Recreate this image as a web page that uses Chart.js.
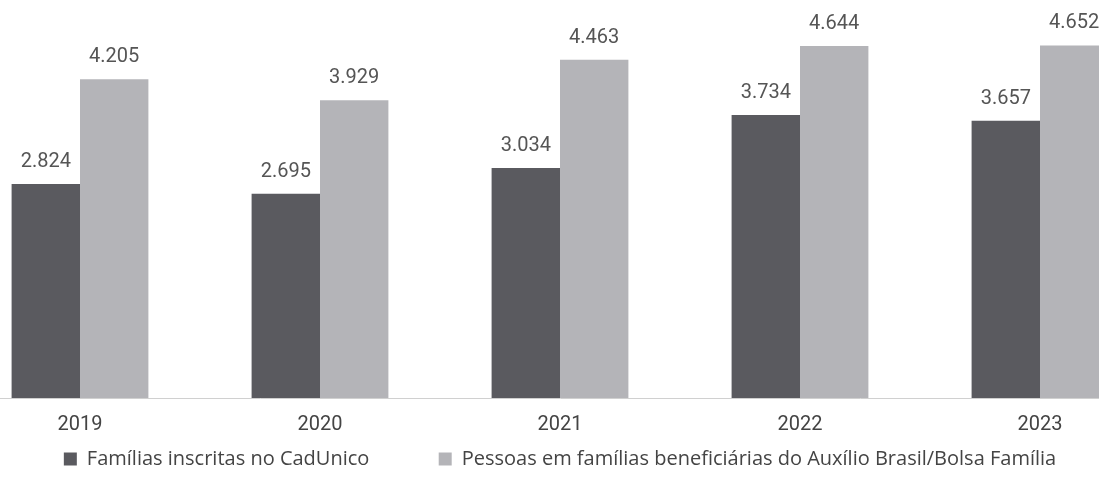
<!DOCTYPE html>
<html>
<head>
<meta charset="utf-8">
<script src="https://cdn.jsdelivr.net/npm/chart.js@4/dist/chart.umd.min.js"></script>
<style>
  html, body { margin: 0; padding: 0; background: #fff; overflow: hidden; }
  #wrap { position: absolute; left: -40px; top: 0; width: 1202px; height: 480px; }
</style>
</head>
<body>
<div id="wrap"><canvas id="c"></canvas></div>
<script>
const years = ['2019', '2020', '2021', '2022', '2023'];
const familias = [2824, 2695, 3034, 3734, 3657];
const pessoas = [4205, 3929, 4463, 4644, 4652];

const fmt = v => String(v).replace(/\B(?=(\d{3})+(?!\d))/g, '.');

const valueLabels = {
    id: 'valueLabels',
    afterDatasetsDraw(chart) {
        const ctx = chart.ctx;
        ctx.save();
        ctx.font = '20px Roboto';
        ctx.fillStyle = '#555';
        ctx.textAlign = 'center';
        ctx.textBaseline = 'alphabetic';
        chart.data.datasets.forEach((ds, i) => {
            chart.getDatasetMeta(i).data.forEach((bar, j) => {
                ctx.fillText(fmt(ds.data[j]), bar.x, bar.y - 17);
            });
        });
        ctx.restore();
    }
};

new Chart(document.getElementById('c'), {
    type: 'bar',
    data: {
        labels: years,
        datasets: [{
            label: 'Famílias inscritas no CadUnico',
            data: familias,
            backgroundColor: '#5a5a5f'
        }, {
            label: 'Pessoas em famílias beneficiárias do Auxílio Brasil/Bolsa Família',
            data: pessoas,
            backgroundColor: '#b4b4b8'
        }]
    },
    options: {
        responsive: true,
        maintainAspectRatio: false,
        animation: false,
        layout: { padding: { left: 0, right: 2, top: 19, bottom: 1 } },
        datasets: { bar: { barPercentage: 1, categoryPercentage: 0.57 } },
        scales: {
            x: {
                grid: { display: false },
                border: { color: '#d0d0d0', dash: [2, 2] },
                ticks: { color: '#444', font: { family: 'Roboto', size: 20 }, padding: 7 }
            },
            y: {
                display: false,
                min: 0,
                max: 5000
            }
        },
        plugins: {
            legend: {
                position: 'bottom',
                labels: {
                    boxWidth: 13,
                    boxHeight: 13,
                    padding: 5,
                    color: '#444',
                    font: { family: 'Open Sans', size: 20 },
                    generateLabels(chart) {
                        const items = Chart.defaults.plugins.legend.labels.generateLabels(chart);
                        // blank spacer keeps the wide gap between the two entries
                        items.splice(1, 0, {
                            text: '       ',
                            fillStyle: 'rgba(0,0,0,0)',
                            strokeStyle: 'rgba(0,0,0,0)',
                            lineWidth: 0,
                            hidden: false
                        });
                        return items;
                    }
                }
            },
            tooltip: { enabled: false }
        }
    },
    plugins: [valueLabels]
});
</script>
</body>
</html>
